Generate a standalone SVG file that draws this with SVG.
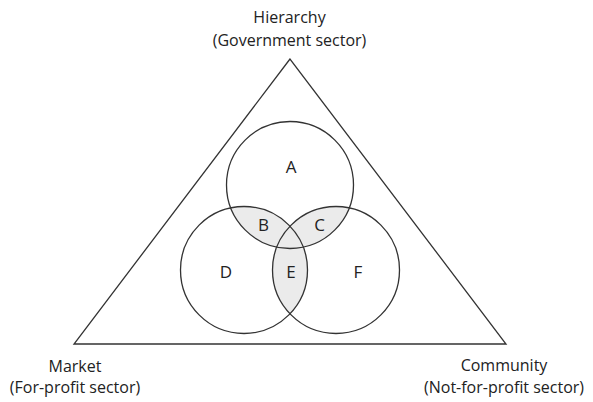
<svg xmlns="http://www.w3.org/2000/svg" width="593" height="402" viewBox="0 0 593 402">
<style>
.ln{fill:none;stroke:#333;stroke-width:1.3}
.t{font-family:"Open Sans","Liberation Sans",sans-serif;font-size:16px;fill:#222;text-anchor:middle}
.lbl{font-family:"Open Sans","Liberation Sans",sans-serif;font-size:17px;fill:#222;text-anchor:middle}
.sh{fill:#ebebeb;stroke:none}
</style>
<defs>
<clipPath id="cA"><circle cx="290" cy="185" r="63.5"/></clipPath>
<clipPath id="cL"><circle cx="244" cy="270" r="63.5"/></clipPath>
</defs>
<rect width="593" height="402" fill="#fff"/>
<g id="triangle"><polygon class="ln" points="290,59 74,344 506,344"/></g>
<g id="shading">
<circle class="sh" cx="244" cy="270" r="63.5" clip-path="url(#cA)"/>
<circle class="sh" cx="336" cy="270" r="63.5" clip-path="url(#cA)"/>
<circle class="sh" cx="336" cy="270" r="63.5" clip-path="url(#cL)"/>
</g>
<g id="circleA"><circle class="ln" cx="290" cy="185" r="63.5"/><text class="lbl" x="291" y="173">A</text></g>
<g id="circleD"><circle class="ln" cx="244" cy="270" r="63.5"/><text class="lbl" x="226" y="278">D</text></g>
<g id="circleF"><circle class="ln" cx="336" cy="270" r="63.5"/><text class="lbl" x="358" y="278">F</text></g>
<g id="regionB"><text class="lbl" x="263.5" y="230.5">B</text></g>
<g id="regionC"><text class="lbl" x="319.5" y="230.5">C</text></g>
<g id="regionE"><text class="lbl" x="291" y="278">E</text></g>
<g id="hierarchy"><text class="t" x="289.5" y="23">Hierarchy</text><text class="t" x="289.5" y="46">(Government sector)</text></g>
<g id="market"><text class="t" x="75" y="371.5">Market</text><text class="t" x="75" y="392.5">(For-profit sector)</text></g>
<g id="community"><text class="t" x="504" y="371">Community</text><text class="t" x="504" y="392.5">(Not-for-profit sector)</text></g>
<g id="connectors"></g>
</svg>
